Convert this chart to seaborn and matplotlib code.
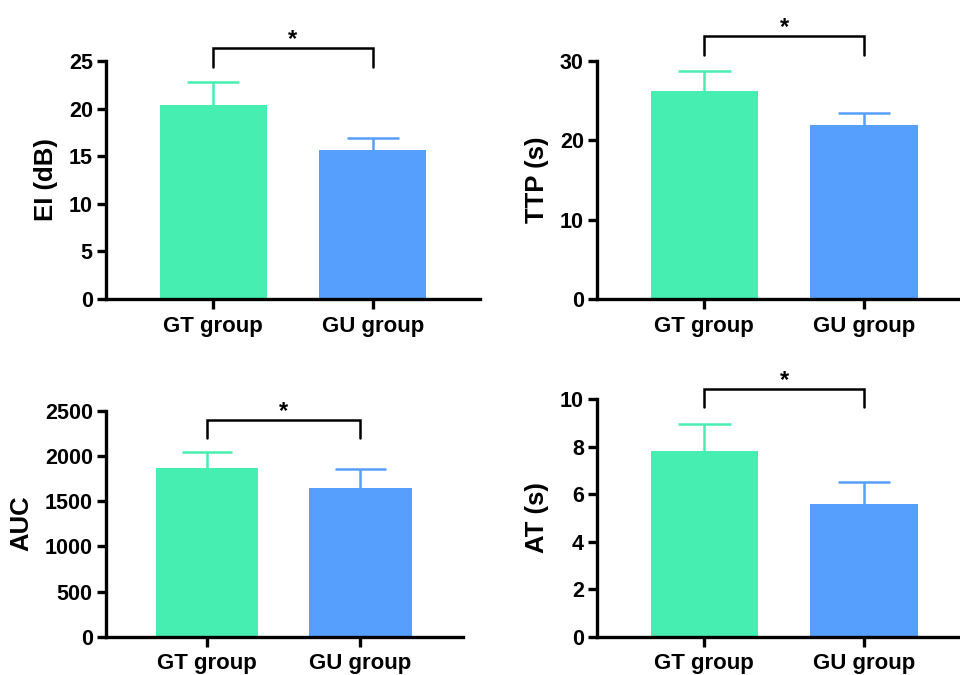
import numpy as np
import matplotlib.pyplot as plt
import seaborn as sns

# --- DATA ---
groups = ["GT group", "GU group"]

ei_mean = [20.4, 15.7]
ei_err = [2.4, 1.2]

ttp_mean = [26.2, 21.9]
ttp_err = [2.5, 1.6]

auc_mean = [1870, 1641]
auc_err = [173, 211]

at_mean = [7.81, 5.6]
at_err = [1.15, 0.91]

colors = ["#46EFB1", "#579FFC"]

# --- STYLE ---
sns.set_style("ticks")
plt.rcParams['font.family'] = ['Liberation Sans', 'DejaVu Sans']
plt.rcParams['font.weight'] = 'bold'
plt.rcParams['axes.labelweight'] = 'bold'
plt.rcParams['axes.labelcolor'] = 'black'
plt.rcParams['text.color'] = 'black'
plt.rcParams['axes.linewidth'] = 2.4
plt.rcParams['xtick.major.width'] = 2.4
plt.rcParams['ytick.major.width'] = 2.4
plt.rcParams['xtick.major.size'] = 7
plt.rcParams['ytick.major.size'] = 6.5
plt.rcParams['xtick.color'] = 'black'
plt.rcParams['ytick.color'] = 'black'
plt.rcParams['xtick.labelcolor'] = 'black'
plt.rcParams['ytick.labelcolor'] = 'black'
plt.rcParams['axes.edgecolor'] = 'black'

fig = plt.figure(figsize=(9.6, 6.75), dpi=100)

# one entry per panel: axes rect, means, errors, label, ylim, yticks, xlim, bracket y, leg y
panels = [
    ([0.1104, 0.557, 0.3896, 0.3526], ei_mean, ei_err, "EI (dB)",
     (0, 25), [0, 5, 10, 15, 20, 25], (-0.67, 1.67), 26.4, 24.4),
    ([0.6219, 0.557, 0.3781, 0.3526], ttp_mean, ttp_err, "TTP (s)",
     (0, 30), [0, 10, 20, 30], (-0.67, 1.60), 33.15, 30.76),
    ([0.1104, 0.0567, 0.372, 0.335], auc_mean, auc_err, "AUC",
     (0, 2500), [0, 500, 1000, 1500, 2000, 2500], (-0.66, 1.67), 2397, 2198),
    ([0.6219, 0.0567, 0.3781, 0.352], at_mean, at_err, "AT (s)",
     (0, 10), [0, 2, 4, 6, 8, 10], (-0.67, 1.60), 10.42, 9.66),
]

CAP_HALF = 0.165  # half cap width, in category units

for rect, mean, err, label, ylim, yticks, xlim, br_y, leg_y in panels:
    ax = fig.add_axes(rect)
    sns.barplot(x=groups, y=mean, hue=groups, palette=colors, width=0.67,
                legend=False, ax=ax, saturation=1, linewidth=0)
    # upper error bars only (no cap at the bar top)
    for i in range(len(groups)):
        top = mean[i] + err[i]
        ax.vlines(i, mean[i], top, color=colors[i], lw=1.8, zorder=1)
        ax.hlines(top, i - CAP_HALF, i + CAP_HALF, color=colors[i], lw=1.8, zorder=1)
    ax.set_ylim(*ylim)
    ax.set_yticks(yticks)
    ax.set_xlim(*xlim)
    ax.set_ylabel(label, fontsize=18.5, fontweight='bold', labelpad=8)
    ax.tick_params(axis='y', labelsize=15.5, pad=3)
    ax.tick_params(axis='x', labelsize=16, pad=5)
    for t in ax.get_xticklabels() + ax.get_yticklabels():
        t.set_fontweight('bold')
    sns.despine(ax=ax)

    # significance bracket
    ax.plot([0, 0, 1, 1], [leg_y, br_y, br_y, leg_y], color='black', lw=1.8,
            clip_on=False, solid_joinstyle='miter')
    ax.annotate('*', xy=(0.5, br_y), xytext=(0, 1.5), textcoords='offset points',
                ha='center', va='baseline', fontsize=17, fontweight='bold',
                annotation_clip=False)

plt.savefig("out.png", dpi=100)
